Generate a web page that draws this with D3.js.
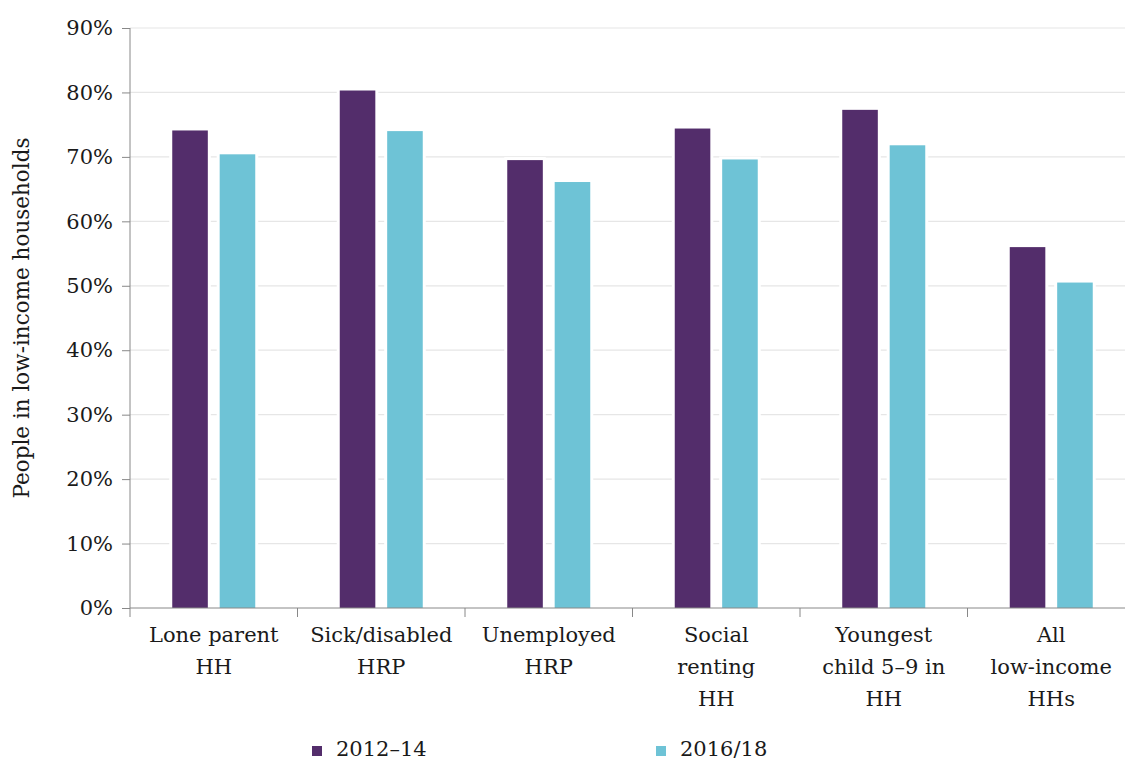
<!DOCTYPE html>
<html><head><meta charset="utf-8">
<script src="https://cdn.jsdelivr.net/npm/d3@7"></script>
<style>body{margin:0;background:#fff}svg{display:block}text{font-family:"DejaVu Serif",serif;fill:#1a1a1a}</style>
</head><body>
<script>
const categories = [["Lone parent","HH"],["Sick/disabled","HRP"],["Unemployed","HRP"],["Social","renting","HH"],["Youngest","child 5–9 in","HH"],["All","low-income","HHs"]];
const series = ["2012–14","2016/18"];
const values2012 = [74.1, 80.3, 69.5, 74.4, 77.3, 56.0];
const values2016 = [70.4, 74.0, 66.1, 69.6, 71.8, 50.5];
const yTicks = [0,10,20,30,40,50,60,70,80,90];
const colors = ["#532d6b","#6ec3d6"];

const W=1125,H=762;
const svg=d3.select("body").append("svg").attr("width",W).attr("height",H);
const x0=d3.scaleBand().domain(d3.range(categories.length)).range([130,1135]);
const y=d3.scaleLinear().domain([0,90]).range([608,28]);
const x1=d3.scaleBand().domain([0,1]).range([0,83]).paddingInner(0.25);

// gridlines
svg.append("g").selectAll("line").data(yTicks.slice(1)).join("line")
  .attr("x1",130).attr("x2",W).attr("y1",d=>y(d)).attr("y2",d=>y(d))
  .attr("stroke","#e6e6e6").attr("stroke-width",1.2);

// bars
const data=[];
categories.forEach((c,i)=>{data.push({i,s:0,v:values2012[i]});data.push({i,s:1,v:values2016[i]});});
const bx=d=>x0(d.i)+x0.bandwidth()/2-41.5+x1(d.s);
const g=svg.append("g");
g.selectAll("rect.bg").data(data).join("rect").attr("class","bg")
  .attr("x",d=>bx(d)-3).attr("y",d=>y(d.v)-3).attr("width",x1.bandwidth()+6).attr("height",d=>y(0)-y(d.v)+3).attr("fill","#fff");
g.selectAll("rect.bar").data(data).join("rect").attr("class","bar")
  .attr("x",d=>bx(d)).attr("y",d=>y(d.v)).attr("width",x1.bandwidth()).attr("height",d=>y(0)-y(d.v))
  .attr("fill",d=>colors[d.s]);

// y axis
const ya=svg.append("g").attr("transform","translate(130,0)")
  .call(d3.axisLeft(y).tickValues(yTicks).tickFormat(d=>d+"%").tickSize(8).tickPadding(9));
ya.select(".domain").attr("stroke","#888").attr("d","M0,608V28");
ya.selectAll(".tick line").attr("stroke","#888");
ya.selectAll("text").style("font-family",'"DejaVu Serif",serif').attr("font-size",21).attr("fill","#1a1a1a");

// x axis
const xa=svg.append("g").attr("transform","translate(0,608)");
xa.append("line").attr("x1",130).attr("x2",W).attr("stroke","#888");
xa.selectAll("line.t").data(d3.range(categories.length+1)).join("line").attr("class","t")
  .attr("x1",i=>130+i*x0.bandwidth()).attr("x2",i=>130+i*x0.bandwidth()).attr("y1",0).attr("y2",9).attr("stroke","#888");
categories.forEach((c,i)=>{
  const t=xa.append("text").attr("text-anchor","middle").attr("font-size",21)
    .attr("x",x0(i)+x0.bandwidth()/2);
  c.forEach((ln,k)=>t.append("tspan").attr("x",x0(i)+x0.bandwidth()/2).attr("y",34+k*32).text(ln));
});

// y title
svg.append("text").attr("transform","translate(29,318) rotate(-90)").attr("text-anchor","middle")
  .attr("font-size",21.5).text("People in low-income households");

// legend
const lx=[312,656];
series.forEach((s,i)=>{
  svg.append("rect").attr("x",lx[i]).attr("y",746).attr("width",10).attr("height",10).attr("fill",colors[i]);
  svg.append("text").attr("x",lx[i]+24).attr("y",756).attr("font-size",21).text(s);
});
</script>
</body></html>
